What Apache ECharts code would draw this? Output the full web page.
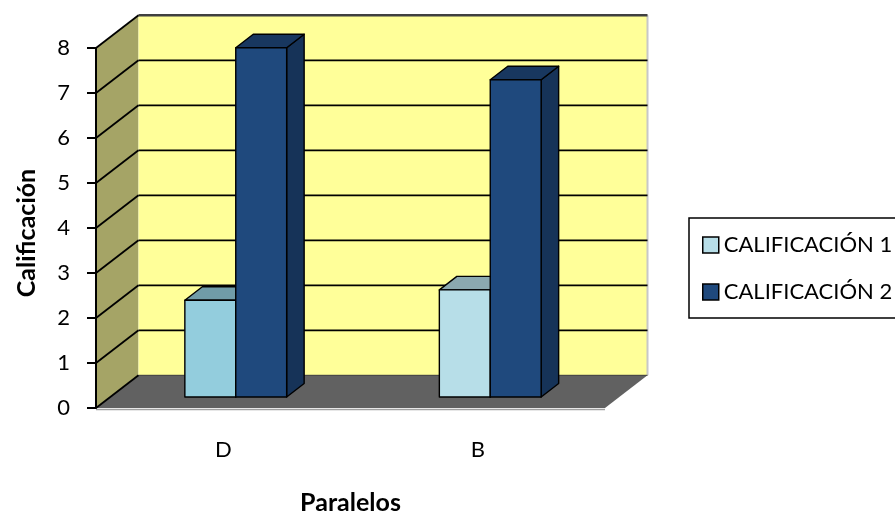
<!DOCTYPE html>
<html>
<head>
<meta charset="utf-8">
<script src="https://cdn.jsdelivr.net/npm/echarts@6/dist/echarts.min.js"></script>
<style>
  html, body { margin: 0; padding: 0; background: #ffffff; }
  #chart { width: 895px; height: 512px; }
</style>
</head>
<body>
<div id="chart"></div>
<script>
// Chart data
const categories = ['D', 'B'];
const seriesNames = ['CALIFICACIÓN 1', 'CALIFICACIÓN 2'];
const calificacion1 = [2.15, 2.38];
const calificacion2 = [7.76, 7.05];
const yTicks = [0, 1, 2, 3, 4, 5, 6, 7, 8];

// Per-point fill colours
const cal1Colors = ['#93CDDD', '#B7DEE8'];
const cal2Colors = ['#1F497D', '#1F497D'];

const FONT = 'Lato, "Open Sans", sans-serif';

// Oblique projection of the 3-D box
const WALL = { dx: 42.5, dy: -32.7 };     // full depth of the box
const BAR_FRONT = { dx: 12.5, dy: -11 };  // depth at which bar fronts sit
const BAR_DEPTH = { dx: 17.5, dy: -13.5 };
const BAR_SHARE = 0.2;                    // bar width as fraction of category band

function shade(hex, k) {
  const n = parseInt(hex.slice(1), 16);
  const r = Math.round(((n >> 16) & 255) * k);
  const g = Math.round(((n >> 8) & 255) * k);
  const b = Math.round((n & 255) * k);
  return 'rgb(' + r + ',' + g + ',' + b + ')';
}

// Walls, floor and gridlines of the box
function renderBox(params, api) {
  const cs = params.coordSys;
  const x0 = cs.x, x1 = cs.x + cs.width;
  const yOf = v => api.coord([0, v])[1];
  const y0 = yOf(yTicks[0]);
  const yTop = yOf(yTicks[yTicks.length - 1]);
  const children = [];

  children.push({
    type: 'polygon',
    shape: { points: [[x0, y0], [x0, yTop], [x0 + WALL.dx, yTop + WALL.dy], [x0 + WALL.dx, y0 + WALL.dy]] },
    style: { fill: '#A5A466' }
  });
  children.push({
    type: 'rect',
    shape: { x: x0 + WALL.dx, y: yTop + WALL.dy, width: cs.width, height: y0 - yTop },
    style: { fill: '#FFFF99' }
  });
  children.push({
    type: 'polygon',
    shape: { points: [[x0, y0], [x1, y0], [x1 + WALL.dx, y0 + WALL.dy], [x0 + WALL.dx, y0 + WALL.dy]] },
    style: { fill: '#616161' }
  });
  // floor front edge shadow
  children.push({
    type: 'line',
    shape: { x1: x0, y1: y0 + 1.5, x2: x1, y2: y0 + 1.5 },
    style: { stroke: '#a0a0a0', lineWidth: 1.5 }
  });
  // right edge of back wall
  children.push({
    type: 'line',
    shape: { x1: x1 + WALL.dx, y1: yTop + WALL.dy, x2: x1 + WALL.dx, y2: y0 + WALL.dy },
    style: { stroke: '#c8c8c8', lineWidth: 2 }
  });

  yTicks.forEach(v => {
    const yf = yOf(v);
    const yb = yf + WALL.dy;
    const isTop = v === yTicks[yTicks.length - 1];
    const isBase = v === yTicks[0];
    children.push({
      type: 'line',
      shape: { x1: x0 + WALL.dx, y1: yb, x2: x1 + WALL.dx, y2: yb },
      style: {
        stroke: isTop ? '#404040' : (isBase ? '#3a3a3a' : '#000'),
        lineWidth: isTop ? 2.5 : (isBase ? 1 : 1.8)
      }
    });
    children.push({
      type: 'line',
      shape: { x1: x0, y1: yf, x2: x0 + WALL.dx, y2: yb },
      style: { stroke: '#000', lineWidth: 1.8 }
    });
  });

  return { type: 'group', children: children };
}

// 3-D bar: side, top and front faces
function barRenderer(colors, half) {
  return function (params, api) {
    const idx = api.value(0);
    const val = api.value(1);
    const base = api.coord([idx, 0]);
    const top = api.coord([idx, val]);
    const band = api.size([1, 0])[0];
    const w = band * BAR_SHARE;
    const xl = base[0] + BAR_FRONT.dx + (half === 0 ? -w : 0);
    const xr = xl + w;
    const yb = base[1] + BAR_FRONT.dy;
    const yt = top[1] + BAR_FRONT.dy;
    const c = colors[params.dataIndex];
    const dx = BAR_DEPTH.dx, dy = BAR_DEPTH.dy;
    const stroke = { stroke: '#000', lineWidth: 1.4, lineJoin: 'round' };
    return {
      type: 'group',
      children: [
        {
          type: 'polygon',
          shape: { points: [[xr, yt], [xr + dx, yt + dy], [xr + dx, yb + dy], [xr, yb]] },
          style: Object.assign({ fill: shade(c, 0.7) }, stroke)
        },
        {
          type: 'polygon',
          shape: { points: [[xl, yt], [xl + dx, yt + dy], [xr + dx, yt + dy], [xr, yt]] },
          style: Object.assign({ fill: shade(c, 0.76) }, stroke)
        },
        {
          type: 'rect',
          shape: { x: xl, y: yt, width: w, height: yb - yt },
          style: Object.assign({ fill: c }, stroke)
        }
      ]
    };
  };
}

const chart = echarts.init(document.getElementById('chart'), null, { renderer: 'canvas' });

chart.setOption({
  backgroundColor: '#ffffff',
  animation: false,
  textStyle: { fontFamily: FONT },
  grid: { left: 96, right: 290, top: 48, bottom: 104, containLabel: false, outerBoundsMode: 'none' },
  legend: {
    orient: 'vertical',
    left: 689,
    top: 218,
    padding: [15, 10, 14, 13],
    itemGap: 23,
    itemWidth: 16,
    itemHeight: 16,
    icon: 'rect',
    borderColor: '#000',
    borderWidth: 1.5,
    borderRadius: 0,
    itemStyle: { borderColor: '#000', borderWidth: 1.5 },
    textStyle: { color: '#000', fontSize: 22, fontFamily: FONT, lineHeight: 24 },
    data: seriesNames
  },
  xAxis: {
    type: 'category',
    data: categories,
    axisLine: { show: false },
    axisTick: { show: false },
    splitLine: { show: false },
    axisLabel: { margin: 32, color: '#000', fontSize: 22, fontFamily: FONT, lineHeight: 20 },
    name: 'Paralelos',
    nameLocation: 'middle',
    nameGap: 82,
    nameTextStyle: { color: '#000', fontSize: 25, fontWeight: 'bold', fontFamily: FONT }
  },
  yAxis: {
    type: 'value',
    min: 0,
    max: 8,
    interval: 1,
    z: 10,
    axisLine: { show: true, lineStyle: { color: '#000', width: 2 } },
    axisTick: { show: true, length: 9, lineStyle: { color: '#000', width: 2 } },
    splitLine: { show: false },
    axisLabel: { margin: 26, color: '#000', fontSize: 22, fontFamily: FONT, padding: [6, 0, 0, 0] },
    name: 'Calificación',
    nameLocation: 'middle',
    nameGap: 57,
    nameRotate: 90,
    nameTextStyle: { color: '#000', fontSize: 25, fontWeight: 'bold', fontFamily: FONT, padding: [0, 10, 0, 0] }
  },
  series: [
    {
      type: 'custom',
      z: 1,
      silent: true,
      clip: false,
      renderItem: renderBox,
      data: [[0, 0]]
    },
    {
      type: 'custom',
      name: seriesNames[0],
      z: 3,
      clip: false,
      itemStyle: { color: '#B7DEE8', borderColor: '#000', borderWidth: 1.5 },
      renderItem: barRenderer(cal1Colors, 0),
      data: calificacion1.map((v, i) => [i, v])
    },
    {
      type: 'custom',
      name: seriesNames[1],
      z: 3,
      clip: false,
      itemStyle: { color: '#1F497D', borderColor: '#000', borderWidth: 1.5 },
      renderItem: barRenderer(cal2Colors, 1),
      data: calificacion2.map((v, i) => [i, v])
    }
  ]
});
</script>
</body>
</html>
